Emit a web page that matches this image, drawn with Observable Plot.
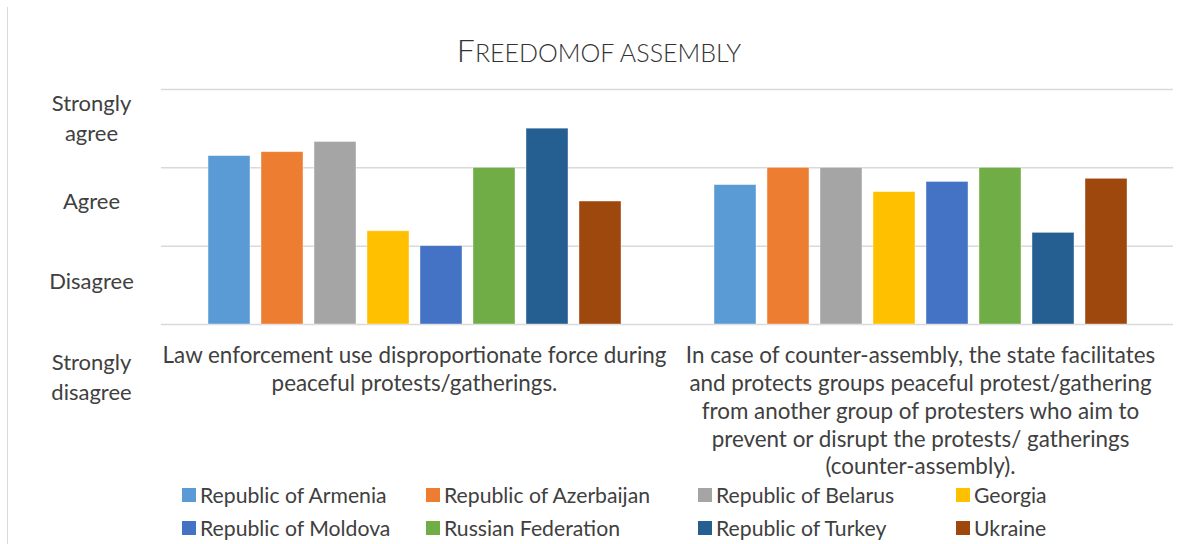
<!DOCTYPE html>
<html>
<head>
<meta charset="utf-8">
<script src="https://cdn.jsdelivr.net/npm/d3@7"></script>
<script src="https://cdn.jsdelivr.net/npm/@observablehq/plot@0.6"></script>
<style>
  html, body { margin: 0; padding: 0; background: #fff; }
  body { width: 1198px; height: 544px; position: relative; overflow: hidden; font-family: Lato, "Open Sans", sans-serif; color: #404040; }
  #frame { position: absolute; left: 7px; top: 7px; width: 0; height: 545px; border-left: 1.5px solid #d9d9d9; }
  #title { height: 70px; position: relative; }
  #title span.t { position: absolute; left: 0; right: 0; top: 34px; text-align: center; font-weight: 300; color: #333; line-height: 1; }
  #title .big { font-size: 32px; }
  #title .small { font-size: 25px; }
  #legend { position: relative; height: 66px; font-size: 21.2px; color: #404040; }
  .item { position: absolute; display: flex; align-items: center; height: 33px; white-space: nowrap; }
  .sw { width: 14px; height: 14px; margin-right: 4px; }
</style>
</head>
<body>
<div id="frame"></div>
<div id="title"><span class="t"><span class="big">F</span><span class="small">REEDOMOF ASSEMBLY</span></span></div>
<div id="chart"></div>
<div id="legend"></div>
<script>
const groups = [
  "Law enforcement use disproportionate force during peaceful protests/gatherings.",
  "In case of counter-assembly, the state facilitates and protects groups peaceful protest/gathering from another group of protesters who aim to prevent or disrupt the protests/ gatherings (counter-assembly)."
];
const groupLabelLines = [
  ["Law enforcement use disproportionate force during", "peaceful protests/gatherings."],
  ["In case of counter-assembly, the state facilitates", "and protects groups peaceful protest/gathering", "from another group of protesters who aim to", "prevent or disrupt the protests/ gatherings", "(counter-assembly)."]
];
const countries = ["Republic of Armenia", "Republic of Azerbaijan", "Republic of Belarus", "Georgia", "Republic of Moldova", "Russian Federation", "Republic of Turkey", "Ukraine"];
const colors = ["#5B9BD5", "#ED7D31", "#A5A5A5", "#FFC000", "#4472C4", "#70AD47", "#255E91", "#9E480E"];
const lawEnforcement = [3.15, 3.20, 3.33, 2.19, 2.00, 3.00, 3.50, 2.57];
const counterAssembly = [2.78, 3.00, 3.00, 2.69, 2.82, 3.00, 2.17, 2.86];
const yTicks = [1, 2, 3, 4];
const yLabels = ["Strongly\ndisagree", "Disagree", "Agree", "Strongly\nagree"];

const series = [lawEnforcement, counterAssembly];
const data = [];
groups.forEach((g, gi) => countries.forEach((c, ci) => data.push({group: g, country: c, value: series[gi][ci]})));

const yLabelShift = [12, -6, -8, -12];
const yLabelMarks = yTicks.map((t, i) => Plot.axisY([t - 0.5], {
  tickFormat: () => yLabels[i],
  tickSize: 0,
  tickPadding: 70,
  textAnchor: "middle",
  fontSize: 22,
  lineHeight: 1.36,
  label: null,
  dy: yLabelShift[i]
}));

const chart = Plot.plot({
  width: 1198,
  height: 408,
  marginTop: 19,
  marginLeft: 161,
  marginRight: 25,
  marginBottom: 154,
  style: {fontFamily: "Lato, 'Open Sans', sans-serif", fontSize: "22px", color: "#404040", background: "transparent", overflow: "visible"},
  fx: {domain: groups, padding: 0},
  x: {domain: countries, paddingInner: 0.21, paddingOuter: 0.85, axis: null},
  y: {domain: [1, 4], axis: null},
  color: {domain: countries, range: colors},
  marks: [
    Plot.ruleY(yTicks, {stroke: "#d9d9d9", strokeWidth: 1.5}),
    Plot.barY(data, {fx: "group", x: "country", y1: 1, y2: "value", fill: "country", stroke: "#ffffff", strokeOpacity: 0.5, strokeWidth: 0.8}),
    Plot.axisFx({
      anchor: "bottom",
      tickSize: 0,
      tickPadding: 19,
      tickFormat: d => groupLabelLines[groups.indexOf(d)].join("\n"),
      fontSize: 22.4,
      lineHeight: 1.24,
      label: null
    }),
    ...yLabelMarks
  ]
});
document.getElementById("chart").appendChild(chart);

const legend = document.getElementById("legend");
const colX = [182, 426, 698, 956];
countries.forEach((c, i) => {
  const row = Math.floor(i / 4), col = i % 4;
  const item = document.createElement("div");
  item.className = "item";
  item.style.left = colX[col] + "px";
  item.style.top = (row * 33) + "px";
  const sw = document.createElement("span");
  sw.className = "sw";
  sw.style.background = colors[i];
  const tx = document.createElement("span");
  tx.textContent = c;
  item.appendChild(sw);
  item.appendChild(tx);
  legend.appendChild(item);
});
</script>
</body>
</html>
